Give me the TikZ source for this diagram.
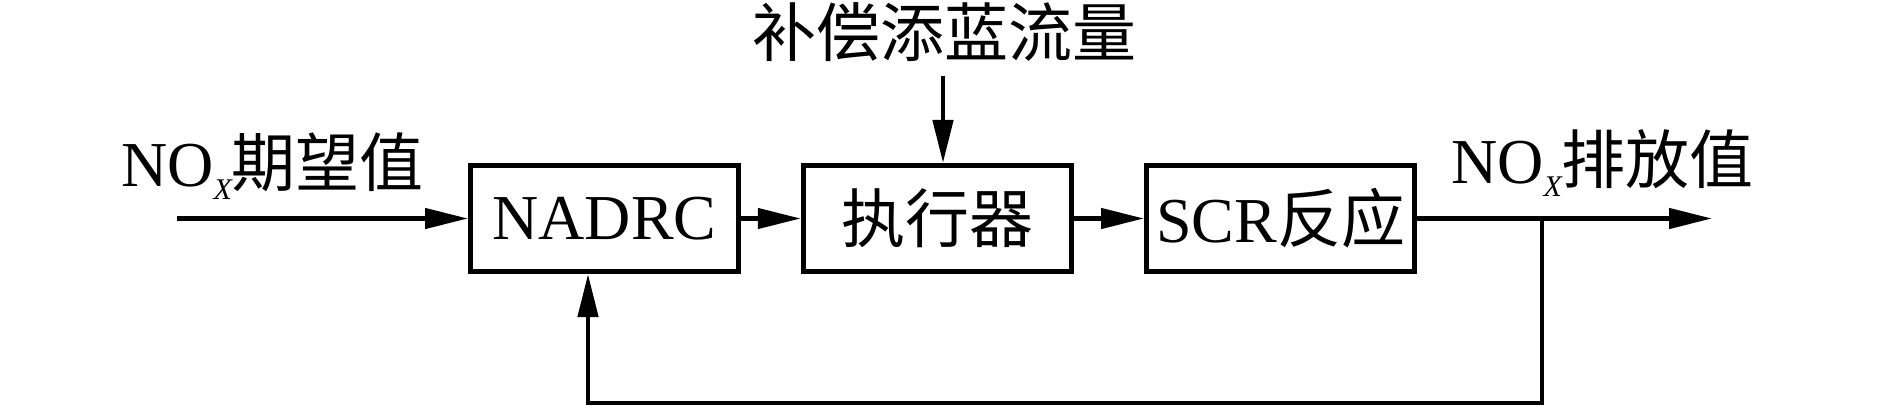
\documentclass[tikz,border=0pt]{standalone}
\usepackage{fontspec}
\usepackage{graphicx}
\setmainfont{Liberation Serif}
\newfontfamily\cjk{Noto Sans CJK SC}
\usetikzlibrary{arrows.meta}
\newcommand{\subX}{\raisebox{-13pt}{\fontsize{30}{30}\selectfont\itshape X}}
\tikzset{
  blk/.style={draw, line width=5pt, minimum width=268pt, minimum height=106pt, inner sep=0pt, font=\fontsize{64}{70}\selectfont},
  lbl/.style={inner sep=0pt, font=\fontsize{64}{70}\selectfont},
  arr/.style={line width=4.5pt, -{Triangle[length=43pt,width=20pt]}},
  ln/.style={line width=4.5pt}
}
\begin{document}
\begin{tikzpicture}[x=1pt,y=-1pt]
\useasboundingbox (0,0) rectangle (1889,406);
% blocks
\node[blk] (nadrc) at (604.5,218.5) {NADRC};
\node[blk] (act) at (937.25,218.5) {\cjk 执行器};
\node[blk] (scr) at (1280.5,218.5) {SCR{\cjk 反应}};
% labels
\node[lbl, anchor=base west] (inlbl) at (121,187) {NO\subX{\cjk 期望值}};
\node[lbl, anchor=base west] (outlbl) at (1451,184) {NO\subX{\cjk 排放值}};
\node[lbl, font=\cjk\fontsize{64}{70}\selectfont] (comp) at (944,32) {补偿添蓝流量};
% coordinates
\coordinate (in) at (177,218.5);
\coordinate (out) at (1712,218.5);
\coordinate (junc) at (1542,218.5);
\coordinate (fb) at (588,403);
\coordinate (ctop) at (943,76);
% connectors
\draw[arr] (in) -- (nadrc.west);
\draw[arr] (nadrc.east) -- (act.west);
\draw[arr] (act.east) -- (scr.west);
\draw[arr] (scr.east) -- (out);
\draw[arr] (ctop) -- (ctop |- act.north);
\draw[arr] (junc) |- (fb) -- (fb |- nadrc.south);
\end{tikzpicture}
\end{document}
